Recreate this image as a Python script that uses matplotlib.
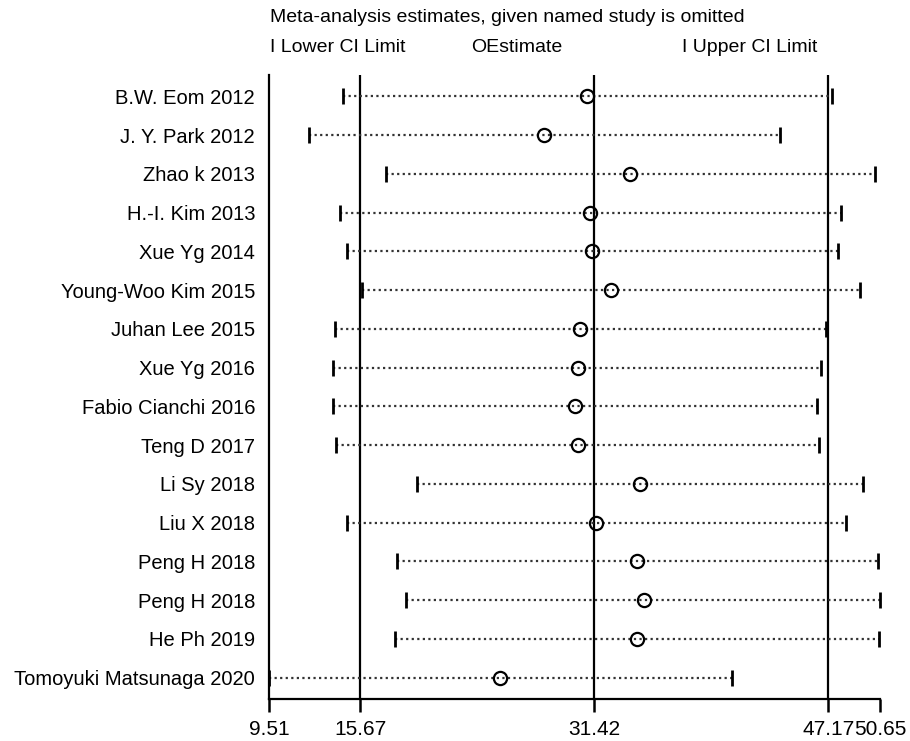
import numpy as np
import matplotlib.pyplot as plt

plt.rcParams['font.family'] = ['Liberation Sans', 'DejaVu Sans']

studies = ["B.W. Eom 2012", "J. Y. Park 2012", "Zhao k 2013", "H.-I. Kim 2013",
           "Xue Yg 2014", "Young-Woo Kim 2015", "Juhan Lee 2015", "Xue Yg 2016",
           "Fabio Cianchi 2016", "Teng D 2017", "Li Sy 2018", "Liu X 2018",
           "Peng H 2018", "Peng H 2018", "He Ph 2019", "Tomoyuki Matsunaga 2020"]
estimate = [30.92, 28.05, 33.83, 31.10, 31.23, 32.53, 30.47, 30.29,
            30.09, 30.31, 34.46, 31.52, 34.28, 34.73, 34.28, 25.09]
lower = [14.51, 12.19, 17.40, 14.26, 14.73, 15.74, 13.94, 13.83,
         13.83, 13.99, 19.48, 14.75, 18.14, 18.74, 18.02, 9.51]
upper = [47.40, 43.92, 50.31, 48.02, 47.80, 49.30, 47.01, 46.70,
         46.41, 46.57, 49.53, 48.34, 50.49, 50.65, 50.58, 40.67]
ref_lines = [15.67, 31.42, 47.17]
xticks = [9.51, 15.67, 31.42, 47.17, 50.65]

fig = plt.figure(figsize=(9.1, 7.41), dpi=100)
ax = fig.add_axes([269/910, 42/741, 611/910, 624/741])

y = np.arange(len(studies))

for v in ref_lines:
    ax.axvline(v, color='black', lw=1.6, zorder=1)

ax.hlines(y, lower, upper, colors='#333333', linestyles=(0, (1, 1.5)), lw=1.6, zorder=2)
ax.plot(lower, y, ls='none', marker='|', ms=12, mew=2, color='black', clip_on=False, zorder=3)
ax.plot(upper, y, ls='none', marker='|', ms=12, mew=2, color='black', clip_on=False, zorder=3)
ax.plot(estimate, y, ls='none', marker='o', ms=9.5, mfc='none', mec='black', mew=1.6,
        clip_on=False, zorder=4)

ax.set_xlim(9.51, 50.65)
ax.set_ylim(len(studies) - 0.45, -0.55)
ax.set_xticks(xticks)
ax.set_xticklabels([f'{t:.2f}' for t in xticks], fontsize=15)
ax.set_yticks(y)
ax.set_yticklabels(studies, fontsize=14.5)
ax.tick_params(axis='x', direction='out', length=9, width=1.8, pad=6)
ax.tick_params(axis='y', length=0, pad=10)
for s in ['top', 'right']:
    ax.spines[s].set_visible(False)
for s in ['left', 'bottom']:
    ax.spines[s].set_linewidth(1.6)

fig.text(270/910, 1 - 18/741, 'Meta-analysis estimates, given named study is omitted',
         fontsize=14, va='center', ha='left')
fig.text(270/910, 1 - 48/741, 'I Lower CI Limit', fontsize=14, va='center', ha='left')
fig.text(471/910, 1 - 48/741, 'OEstimate', fontsize=14, va='center', ha='left')
fig.text(682/910, 1 - 48/741, 'I Upper CI Limit', fontsize=14, va='center', ha='left')

fig.savefig('out.png', dpi=100)
